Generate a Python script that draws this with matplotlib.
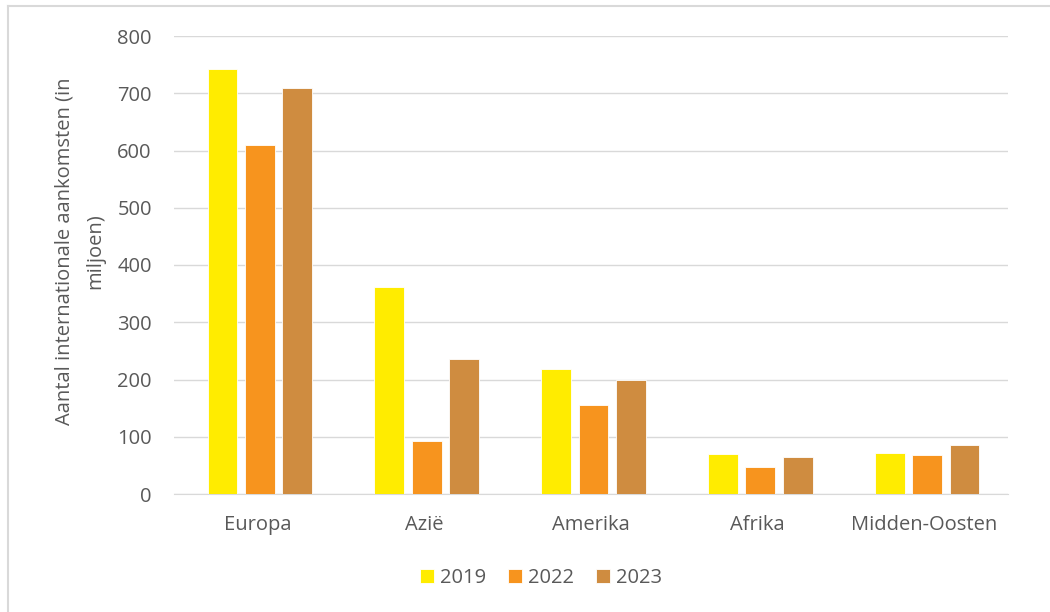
import matplotlib.pyplot as plt
import numpy as np
from matplotlib.lines import Line2D

plt.rcParams['font.family'] = ['Open Sans', 'DejaVu Sans']

regios = ['Europa', 'Azië', 'Amerika', 'Afrika', 'Midden-Oosten']
jaren = ['2019', '2022', '2023']
v2019 = [742, 362, 219, 69, 71]
v2022 = [609, 92, 156, 47, 68]
v2023 = [709, 236, 200, 65, 86]
kleuren = ['#FFEC00', '#F7941E', '#CF8C40']

grijs = '#595959'

fig = plt.figure(figsize=(10.5, 6.12), dpi=100)
ax = fig.add_axes([174 / 1050, 1 - 494 / 612, 834 / 1050, 458 / 612])

x = np.arange(len(regios))
breedte = 0.178
stap = 0.224
for i, (waarden, jaar) in enumerate(zip([v2019, v2022, v2023], jaren)):
    ax.bar(x + (i - 1) * stap + 0.015, waarden, breedte, color=kleuren[i],
           label=jaar, edgecolor='white', linewidth=0.6, zorder=3)

ax.set_xlim(-0.5, len(regios) - 0.5)
ax.set_ylim(0, 800)
ax.set_yticks(range(0, 801, 100))
ax.set_xticks(x)
ax.set_xticklabels(regios)
ax.tick_params(axis='both', length=0, colors=grijs, labelsize=14.5)
ax.tick_params(axis='x', pad=15)
ax.tick_params(axis='y', pad=16)
ax.grid(axis='y', color='#D9D9D9', linewidth=1, zorder=0)
for s in ['top', 'right', 'left']:
    ax.spines[s].set_visible(False)
ax.spines['bottom'].set_color('#D9D9D9')

ax.set_ylabel('Aantal internationale aankomsten (in\nmiljoen)', color=grijs,
              fontsize=14.5, linespacing=1.75)
ax.yaxis.set_label_coords(-0.082, 0.53)

ax.legend(loc='center', bbox_to_anchor=(541 / 1050, 1 - 578 / 612),
          bbox_transform=fig.transFigure, ncol=3, frameon=False,
          fontsize=14.5, labelcolor=grijs, handlelength=0.7, handleheight=0.7,
          handletextpad=0.3, columnspacing=1.1)

# rand links en boven
fig.add_artist(Line2D([8 / 1050, 8 / 1050], [0, 1 - 6 / 612], transform=fig.transFigure,
                      color='#D9D9D9', linewidth=1.5))
fig.add_artist(Line2D([8 / 1050, 1], [1 - 6 / 612, 1 - 6 / 612], transform=fig.transFigure,
                      color='#D9D9D9', linewidth=1.5))

fig.savefig('out.png', dpi=100)
